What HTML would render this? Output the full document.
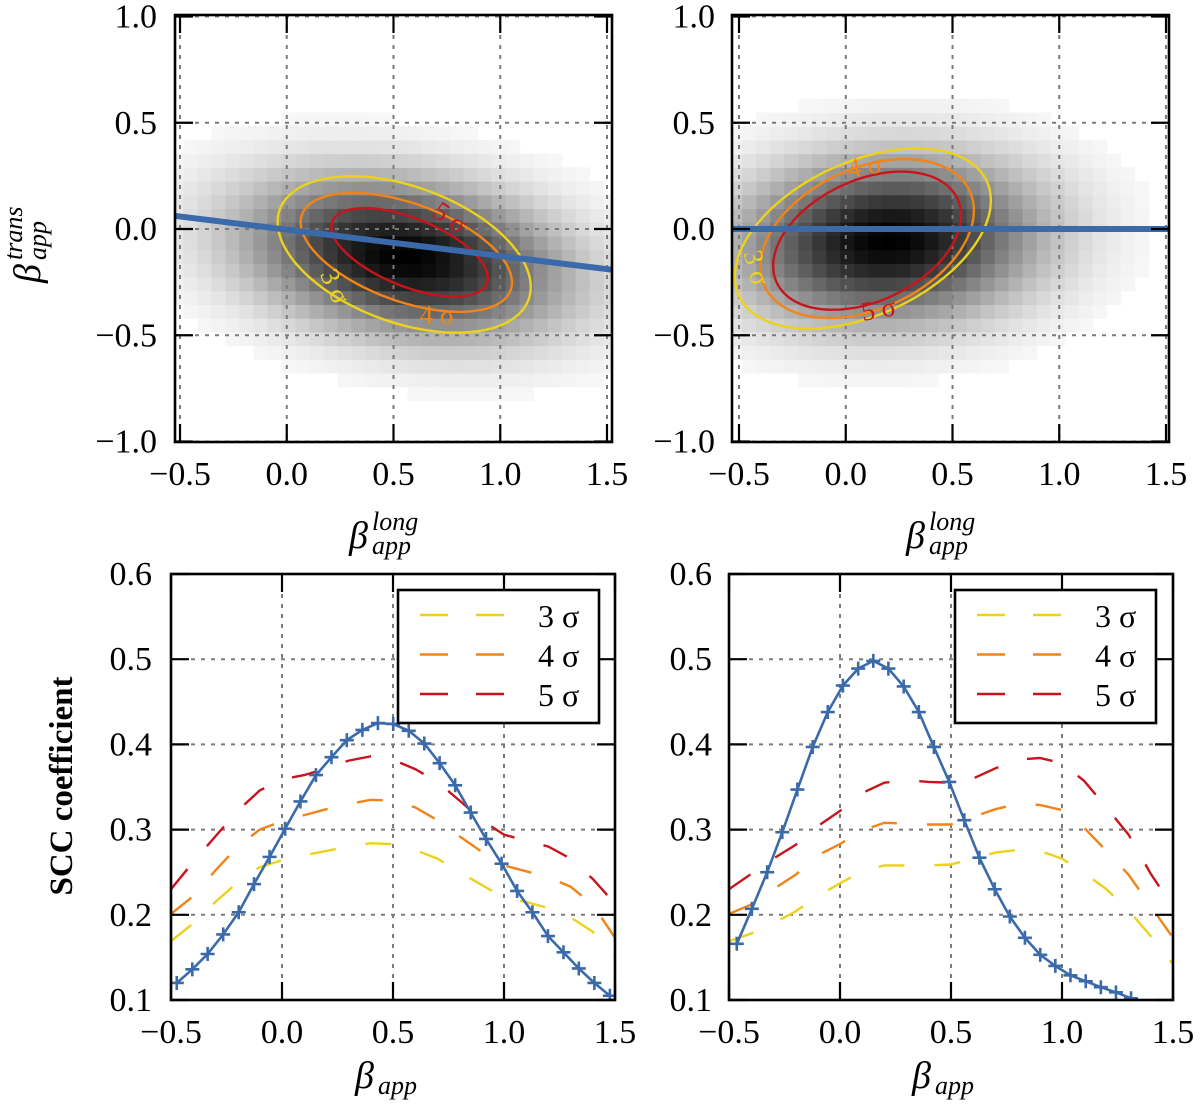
<!DOCTYPE html>
<html><head><meta charset="utf-8">
<style>
html,body{margin:0;padding:0;background:#fff;}
svg{display:block;font-family:"Liberation Serif",serif;}
</style></head>
<body>
<svg id="fig" width="1200" height="1107" viewBox="0 0 1200 1107" xmlns="http://www.w3.org/2000/svg"></svg>
<script>
// ===== DATA =====
// Heatmap density parameters (top panels): [meanX, meanY, sigmaX, sigmaY, rho]
const heatLeft = [0.55, -0.13, 0.5, 0.25, -0.25];
const heatRight = [0.2, -0.05, 0.47, 0.26, 0.08];
// Contour ellipses: [cx, cy, semiA, semiB, angleDeg]
const contoursLeft3 = [0.55, -0.12, 0.62, 0.32, -20];
const contoursLeft4 = [0.56, -0.11, 0.52, 0.23, -20];
const contoursLeft5 = [0.575, -0.11, 0.39, 0.16, -22];
const contoursRight3 = [0.08, -0.045, 0.64, 0.36, 25];
const contoursRight4 = [0.10, -0.045, 0.53, 0.33, 25];
const contoursRight5 = [0.10, -0.055, 0.467, 0.285, 25];
// Fit lines (top panels)
const lineX = [-0.55, 1.55];
const lineLeftY = [0.065, -0.195];
const lineRightY = [0.0, 0.0];
// Tick labels
const topXTicks = [-0.5, 0.0, 0.5, 1.0, 1.5];
const topYTicks = [1.0, 0.5, 0.0, -0.5, -1.0];
const botXTicks = [-0.5, 0.0, 0.5, 1.0, 1.5];
const botYTicks = [0.6, 0.5, 0.4, 0.3, 0.2, 0.1];
// Bottom-left: SCC blue curve
const blX = [-0.474,-0.404,-0.335,-0.265,-0.195,-0.126,-0.056,0.014,0.083,0.153,0.223,0.292,0.362,0.432,0.501,0.571,0.641,0.710,0.780,0.850,0.919,0.989,1.059,1.128,1.198,1.268,1.337,1.407,1.477];
const blY = [0.120,0.136,0.154,0.177,0.203,0.236,0.268,0.301,0.333,0.364,0.385,0.405,0.417,0.425,0.424,0.416,0.401,0.378,0.352,0.320,0.289,0.260,0.228,0.203,0.175,0.156,0.137,0.120,0.105];
const gridX = [-0.5,-0.4,-0.3,-0.2,-0.1,0.0,0.1,0.2,0.3,0.4,0.5,0.6,0.7,0.8,0.9,1.0,1.1,1.2,1.3,1.4,1.5];
const bl5 = [0.230,0.262,0.292,0.322,0.346,0.359,0.364,0.372,0.381,0.386,0.382,0.371,0.356,0.334,0.311,0.294,0.287,0.280,0.266,0.242,0.213];
const bl4 = [0.201,0.222,0.252,0.280,0.300,0.310,0.317,0.324,0.330,0.335,0.334,0.326,0.311,0.292,0.274,0.258,0.251,0.244,0.233,0.212,0.173];
const bl3 = [0.169,0.190,0.215,0.238,0.256,0.264,0.270,0.275,0.280,0.284,0.283,0.276,0.266,0.250,0.235,0.220,0.215,0.208,0.197,0.180,0.150];
// Bottom-right
const brX = [-0.465,-0.397,-0.328,-0.260,-0.192,-0.123,-0.055,0.013,0.082,0.150,0.218,0.287,0.355,0.423,0.492,0.560,0.628,0.697,0.765,0.833,0.902,0.970,1.038,1.107,1.175,1.243,1.311];
const brY = [0.166,0.207,0.250,0.297,0.347,0.397,0.438,0.469,0.489,0.498,0.489,0.468,0.438,0.397,0.356,0.311,0.267,0.230,0.198,0.173,0.153,0.140,0.129,0.122,0.115,0.109,0.102];
const br5 = [0.230,0.248,0.266,0.282,0.304,0.322,0.343,0.355,0.358,0.356,0.355,0.360,0.372,0.382,0.384,0.378,0.357,0.326,0.294,0.248,0.209];
const br4 = [0.201,0.212,0.230,0.247,0.270,0.283,0.299,0.308,0.307,0.306,0.306,0.315,0.324,0.330,0.329,0.323,0.302,0.275,0.247,0.210,0.173];
const br3 = [0.169,0.178,0.190,0.204,0.222,0.237,0.251,0.258,0.258,0.258,0.259,0.266,0.273,0.276,0.275,0.266,0.249,0.230,0.205,0.175,0.142];
const legendLabels = ['3 σ','4 σ','5 σ'];

// ===== HELPERS =====
const NS = 'http://www.w3.org/2000/svg';
const svg = document.getElementById('fig');
function mk(tag, attrs, parent){
  const e = document.createElementNS(NS, tag);
  for (const k in attrs) e.setAttribute(k, attrs[k]);
  (parent||svg).appendChild(e);
  return e;
}
const C3 = '#ecd21b', C4 = '#f08418', C5 = '#c8141c', CB = '#3a6aaa';
const fmt = v => (v<0?'\u2212':'') + Math.abs(v).toFixed(1);

function axTop(x0px, tick0){
  return {L:x0px, R:x0px+437, T:15, B:442,
    sx: v => tick0 + (v+0.5)*213.5, sy: v => 229 - v*212.5};
}
function axBot(L){
  return {L:L, R:L+444, T:574, B:1000,
    sx: v => L + (v+0.5)*222, sy: v => 1000 - (v-0.1)*852};
}
const A = [axTop(175,180), axTop(732,739), axBot(171), axBot(729)];

function frame(ax, g){
  const clipId = 'clip'+Math.round(ax.L)+'_'+ax.T;
  const cp = mk('clipPath',{id:clipId}, g);
  mk('rect',{x:ax.L,y:ax.T,width:ax.R-ax.L,height:ax.B-ax.T}, cp);
  return clipId;
}
function gridTicks(ax, g, xt, yt){
  const gg = mk('g',{}, g);
  
  
  xt.forEach(v=>{
    const x = ax.sx(v);
    mk('line',{x1:x,x2:x,y1:ax.T,y2:ax.B,stroke:'#7a7a7a','stroke-width':2,'stroke-dasharray':'4 6'}, gg);
  });
  yt.forEach(v=>{
    const y = ax.sy(v);
    mk('line',{x1:ax.L,x2:ax.R,y1:y,y2:y,stroke:'#7a7a7a','stroke-width':2,'stroke-dasharray':'4 6'}, gg);
  });
}
function spinesTicks(ax, g, xt, yt, yLabelRight, xLabelBase){
  const tg = mk('g',{}, g);
  
  
  xt.forEach(v=>{
    const x = ax.sx(v);
    mk('line',{x1:x,x2:x,y1:ax.T,y2:ax.T+18,stroke:'#000','stroke-width':2.2}, tg);
    mk('line',{x1:x,x2:x,y1:ax.B,y2:ax.B-18,stroke:'#000','stroke-width':2.2}, tg);
    const t = mk('text',{x:x,y:xLabelBase,'font-size':34,'text-anchor':'middle'}, g);
    t.textContent = fmt(v);
    
    
  });
  yt.forEach(v=>{
    const y = ax.sy(v);
    mk('line',{x1:ax.L,x2:ax.L+18,y1:y,y2:y,stroke:'#000','stroke-width':2.2}, tg);
    mk('line',{x1:ax.R,x2:ax.R-18,y1:y,y2:y,stroke:'#000','stroke-width':2.2}, tg);
    const t = mk('text',{x:yLabelRight,y:y+11,'font-size':34,'text-anchor':'end'}, g);
    t.textContent = fmt(v);
    
    
  });
  const r = mk('rect',{x:ax.L,y:ax.T,width:ax.R-ax.L,height:ax.B-ax.T,fill:'none',stroke:'#000','stroke-width':2.6}, g);
  
  
}

// ===== TOP PANELS =====
function heatmap(ax, g, p, clipId){
  const hg = mk('g',{'clip-path':'url(#'+clipId+')'}, g);
  
  
  const [mx,my,sx,sy,rho] = p;
  const nx = 32, ny = 31, x0=-0.55, x1=1.55, y0=-1.0, y1=1.0;
  const dx=(x1-x0)/nx, dy=(y1-y0)/ny;
  for(let i=0;i<nx;i++){
    for(let j=0;j<ny;j++){
      const cx = x0+(i+0.5)*dx, cy = y0+(j+0.5)*dy;
      const u=(cx-mx)/sx, w=(cy-my)/sy;
      const q = (u*u - 2*rho*u*w + w*w)/(1-rho*rho);
      const d = Math.exp(-0.5*q);
      if (d < 0.03) continue;
      const gv = Math.round(255*(1-d));
      const px = ax.sx(x0+i*dx), px2 = ax.sx(x0+(i+1)*dx);
      const py = ax.sy(y0+(j+1)*dy), py2 = ax.sy(y0+j*dy);
      const r = mk('rect',{x:px,y:py,width:px2-px+0.6,height:py2-py+0.6,fill:`rgb(${gv},${gv},${gv})`}, hg);
      
      
    }
  }
}
function ellipse(ax, g, e, color, name, clipId){
  const [cx,cy,a,b,ang] = e;
  const t = ang*Math.PI/180;
  const pts=[];
  for(let k=0;k<=120;k++){
    const th = k/120*2*Math.PI;
    const ex=a*Math.cos(th), ey=b*Math.sin(th);
    const X = cx + ex*Math.cos(t) - ey*Math.sin(t);
    const Y = cy + ex*Math.sin(t) + ey*Math.cos(t);
    pts.push(ax.sx(X).toFixed(1)+','+ax.sy(Y).toFixed(1));
  }
  const pl = mk('polyline',{points:pts.join(' '),fill:'none',stroke:color,'stroke-width':2.4,'clip-path':'url(#'+clipId+')'}, g);
  
  
}
function fitLine(ax, g, ys, clipId){
  const l = mk('line',{x1:ax.sx(lineX[0]),y1:ax.sy(ys[0]),x2:ax.sx(lineX[1]),y2:ax.sy(ys[1]),stroke:CB,'stroke-width':6,'clip-path':'url(#'+clipId+')'}, g);
  
  
}
function clabel(g, txt, x, y, rot, color){
  const t = mk('text',{x:x,y:y,'font-size':27,fill:color,'text-anchor':'middle',transform:`rotate(${rot} ${x} ${y})`}, g);
  t.textContent = txt;
  
  
}
function betaLabel(x, y, sup, sub, rot, name){
  const g = mk('g',{transform:`translate(${x} ${y}) rotate(${rot||0})`});
  
  
  const b = mk('text',{x:0,y:0,'font-size':38,'font-style':'italic'}, g); b.textContent='β';
  if (sup){ const s = mk('text',{x:23,y:-18,'font-size':26,'font-style':'italic'}, g); s.textContent=sup; }
  if (sub){ const s = mk('text',{x:23,y:6,'font-size':26,'font-style':'italic'}, g); s.textContent=sub; }
}

// Panel 1: top-left
(function(){
  const ax=A[0];
  const g=mk('g',{});  
  const cid=frame(ax,g);
  heatmap(ax,g,heatLeft,cid);
  gridTicks(ax,g,topXTicks,topYTicks);
  ellipse(ax,g,contoursLeft3,C3,'contour-3-sigma',cid);
  ellipse(ax,g,contoursLeft4,C4,'contour-4-sigma',cid);
  ellipse(ax,g,contoursLeft5,C5,'contour-5-sigma',cid);
  fitLine(ax,g,lineLeftY,cid);
  clabel(g,'5 σ',445,225,35,C5);
  clabel(g,'4 σ',437,324,0,C4);
  clabel(g,'3 σ',327,290,65,C3);
  spinesTicks(ax,g,topXTicks,topYTicks,157,485);
})();
// Panel 2: top-right
(function(){
  const ax=A[1];
  const g=mk('g',{});  
  const cid=frame(ax,g);
  heatmap(ax,g,heatRight,cid);
  gridTicks(ax,g,topXTicks,topYTicks);
  ellipse(ax,g,contoursRight3,C3,'contour-3-sigma',cid);
  ellipse(ax,g,contoursRight4,C4,'contour-4-sigma',cid);
  ellipse(ax,g,contoursRight5,C5,'contour-5-sigma',cid);
  fitLine(ax,g,lineRightY,cid);
  clabel(g,'4 σ',866,175,-10,C4);
  clabel(g,'3 σ',748,270,75,C3);
  clabel(g,'5 σ',880,318,-10,C5);
  spinesTicks(ax,g,topXTicks,topYTicks,715,485);
})();

// ===== BOTTOM PANELS =====
function dashed(ax,g,ys,color,name,cid){
  const pts = gridX.map((x,i)=>ax.sx(x).toFixed(1)+','+ax.sy(ys[i]).toFixed(1)).join(' ');
  const p = mk('polyline',{points:pts,fill:'none',stroke:color,'stroke-width':2.4,'stroke-dasharray':'26 30','clip-path':'url(#'+cid+')'}, g);
  
  
}
function blue(ax,g,xs,ys,cid){
  const bg = mk('g',{'clip-path':'url(#'+cid+')'}, g);
  
  
  const pts = xs.map((x,i)=>ax.sx(x).toFixed(1)+','+ax.sy(ys[i]).toFixed(1)).join(' ');
  mk('polyline',{points:pts,fill:'none',stroke:CB,'stroke-width':2.6}, bg);
  xs.forEach((x,i)=>{
    const X=ax.sx(x), Y=ax.sy(ys[i]);
    const m = mk('path',{d:`M${X-7},${Y}H${X+7}M${X},${Y-7}V${Y+7}`,stroke:CB,'stroke-width':2.6}, bg);
    
    
  });
}
function legend(g, x, y){
  const lg = mk('g',{}, g);
  
  
  mk('rect',{x:x,y:y,width:201,height:133,fill:'#fff',stroke:'#000','stroke-width':2.6}, lg);
  const cols=[C3,C4,C5];
  legendLabels.forEach((lab,i)=>{
    const yy = y+25+i*39.5;
    const e = mk('g',{}, lg);
    
    
    mk('line',{x1:x+22,x2:x+107,y1:yy,y2:yy,stroke:cols[i],'stroke-width':2.6,'stroke-dasharray':'28 28'}, e);
    const t = mk('text',{x:x+140,y:yy+12,'font-size':32}, e);
    t.textContent = lab;
  });
}
function bottom(ax, name, xs, ys, d3, d4, d5, yLabRight, legX){
  const g=mk('g',{});  
  const cid=frame(ax,g);
  gridTicks(ax,g,botXTicks,botYTicks);
  dashed(ax,g,d3,C3,'line-3-sigma',cid);
  dashed(ax,g,d4,C4,'line-4-sigma',cid);
  dashed(ax,g,d5,C5,'line-5-sigma',cid);
  blue(ax,g,xs,ys,cid);
  spinesTicks(ax,g,botXTicks,botYTicks,yLabRight,1043);
  legend(g,legX,590);
}
bottom(A[2],'panel-bottom-left',blX,blY,bl3,bl4,bl5,152,398);
bottom(A[3],'panel-bottom-right',brX,brY,br3,br4,br5,712,955);

// ===== AXIS LABELS =====
betaLabel(349,548,'long','app',0,'x-axis-title-top-left');
betaLabel(906,548,'long','app',0,'x-axis-title-top-right');
betaLabel(40,283,'trans','app',-90,'y-axis-title-top');
betaLabel(355,1088,null,'app',0,'x-axis-title-bottom-left');
betaLabel(912,1088,null,'app',0,'x-axis-title-bottom-right');
const scc = mk('text',{x:-786,y:0,'font-size':33,'font-weight':'bold','text-anchor':'middle',transform:'translate(72,0) rotate(-90)'});
scc.textContent='SCC coefficient';


</script>
</body></html>
